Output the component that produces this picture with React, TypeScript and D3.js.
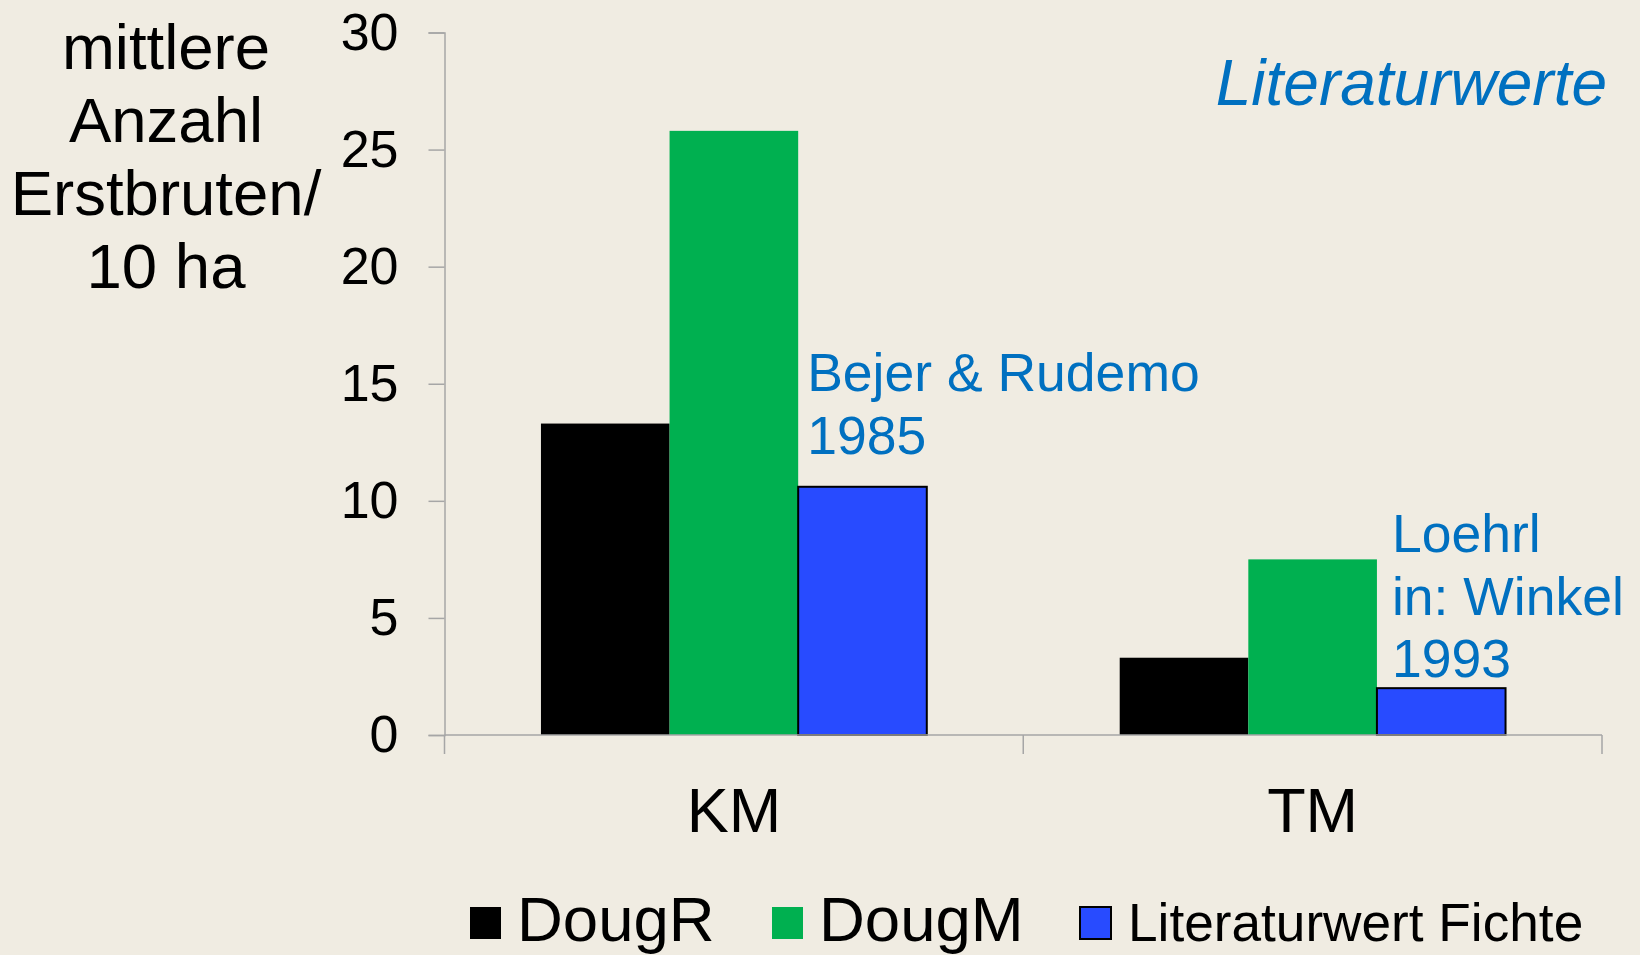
import React, { useEffect, useRef } from "react";
import * as d3 from "d3";

const categories = ["KM", "TM"];
const seriesNames = ["DougR", "DougM", "Literaturwert Fichte"];
const dougR = [13.3, 3.3];
const dougM = [25.8, 7.5];
const fichte = [10.6, 2.0];
const yTicks = [0, 5, 10, 15, 20, 25, 30];
const colors = ["#000000", "#00b050", "#284bff"];
const notes = [
  { cat: "KM", lines: ["Bejer & Rudemo", "1985"], dx: 9, dy: -33 },
  { cat: "TM", lines: ["Loehrl", "in: Winkel", "1993"], dx: 15, dy: -11 },
];

const W = 1640;
const H = 955;
const FONT = "'Liberation Sans', Arial, sans-serif";
const AXIS = "#a6a6a6";

export default function App() {
  const yAxisRef = useRef<SVGGElement>(null);

  const x = d3.scaleBand<string>().domain(categories).range([444.5, 1602]);
  const xi = d3
    .scaleBand<string>()
    .domain(seriesNames)
    .range([0, x.bandwidth()])
    .paddingOuter(0.75);
  const y = d3.scaleLinear().domain([0, 30]).range([735, 32.5]);

  const values = [dougR, dougM, fichte];

  useEffect(() => {
    document.body.style.margin = "0";
    const g = d3.select(yAxisRef.current!);
    g.selectAll("*").remove();
    g.call(d3.axisLeft(y).tickValues(yTicks).tickSize(16).tickPadding(30));
    g.select(".domain").attr("stroke", AXIS).attr("stroke-width", 1.5);
    g.selectAll(".tick line").attr("stroke", AXIS).attr("stroke-width", 1.5);
    g.selectAll(".tick text")
      .attr("fill", "#000")
      .attr("font-size", 52)
      .attr("font-family", FONT);
  }, []);

  const boundaries = [x(categories[0])!, ...categories.map((c) => x(c)! + x.bandwidth())];

  return (
    <svg width={W} height={H} style={{ display: "block", background: "#f0ece2" }}>
      <rect width={W} height={H} fill="#f0ece2" />

      {/* y title */}
      <text fontFamily={FONT} fontSize={63.5} textAnchor="middle" fill="#000">
        {["mittlere", "Anzahl", "Erstbruten/", "10 ha"].map((t, i) => (
          <tspan key={t} x={166} y={69 + i * 73}>
            {t}
          </tspan>
        ))}
      </text>

      {/* bars */}
      {categories.map((c, ci) => (
        <g key={c} transform={`translate(${x(c)},0)`}>
          {seriesNames.map((s, si) => (
            <rect
              key={s}
              x={xi(s)}
              y={y(values[si][ci])}
              width={xi.bandwidth()}
              height={y(0) - y(values[si][ci])}
              fill={colors[si]}
              stroke={si === 2 ? "#000" : "none"}
              strokeWidth={si === 2 ? 2 : 0}
            />
          ))}
        </g>
      ))}

      {/* x axis */}
      <line x1={x.range()[0]} x2={x.range()[1]} y1={y(0)} y2={y(0)} stroke={AXIS} strokeWidth={1.5} />
      {boundaries.map((b, i) => (
        <line key={i} x1={b} x2={b} y1={y(0)} y2={y(0) + 19} stroke={AXIS} strokeWidth={1.5} />
      ))}
      {categories.map((c) => (
        <text
          key={c}
          x={x(c)! + x.bandwidth() / 2}
          y={832}
          textAnchor="middle"
          fontFamily={FONT}
          fontSize={63}
          fill="#000"
        >
          {c}
        </text>
      ))}

      <g ref={yAxisRef} transform={`translate(${x.range()[0]},0)`} />

      {/* annotations */}
      {notes.map((n) => {
        const ci = categories.indexOf(n.cat);
        const x0 = x(n.cat)! + xi(seriesNames[2])! + n.dx;
        const yLast = y(fichte[ci]) + n.dy;
        return (
          <text key={n.cat} fontFamily={FONT} fontSize={53.5} fill="#0070c0">
            {n.lines.map((l, i) => (
              <tspan key={l} x={x0} y={yLast - (n.lines.length - 1 - i) * 62.5}>
                {l}
              </tspan>
            ))}
          </text>
        );
      })}

      <text
        x={1607}
        y={105}
        textAnchor="end"
        fontFamily={FONT}
        fontSize={64}
        fontStyle="italic"
        fill="#0070c0"
      >
        Literaturwerte
      </text>

      {/* legend */}
      {[
        { sx: 470, tx: 517, size: 63.5 },
        { sx: 772, tx: 819, size: 63.5 },
        { sx: 1080, tx: 1128, size: 53.2 },
      ].map((l, i) => (
        <g key={seriesNames[i]}>
          <rect
            x={l.sx}
            y={907}
            width={31}
            height={32}
            fill={colors[i]}
            stroke={i === 2 ? "#000" : "none"}
            strokeWidth={i === 2 ? 2 : 0}
          />
          <text x={l.tx} y={941} fontFamily={FONT} fontSize={l.size} fill="#000">
            {seriesNames[i]}
          </text>
        </g>
      ))}
    </svg>
  );
}
